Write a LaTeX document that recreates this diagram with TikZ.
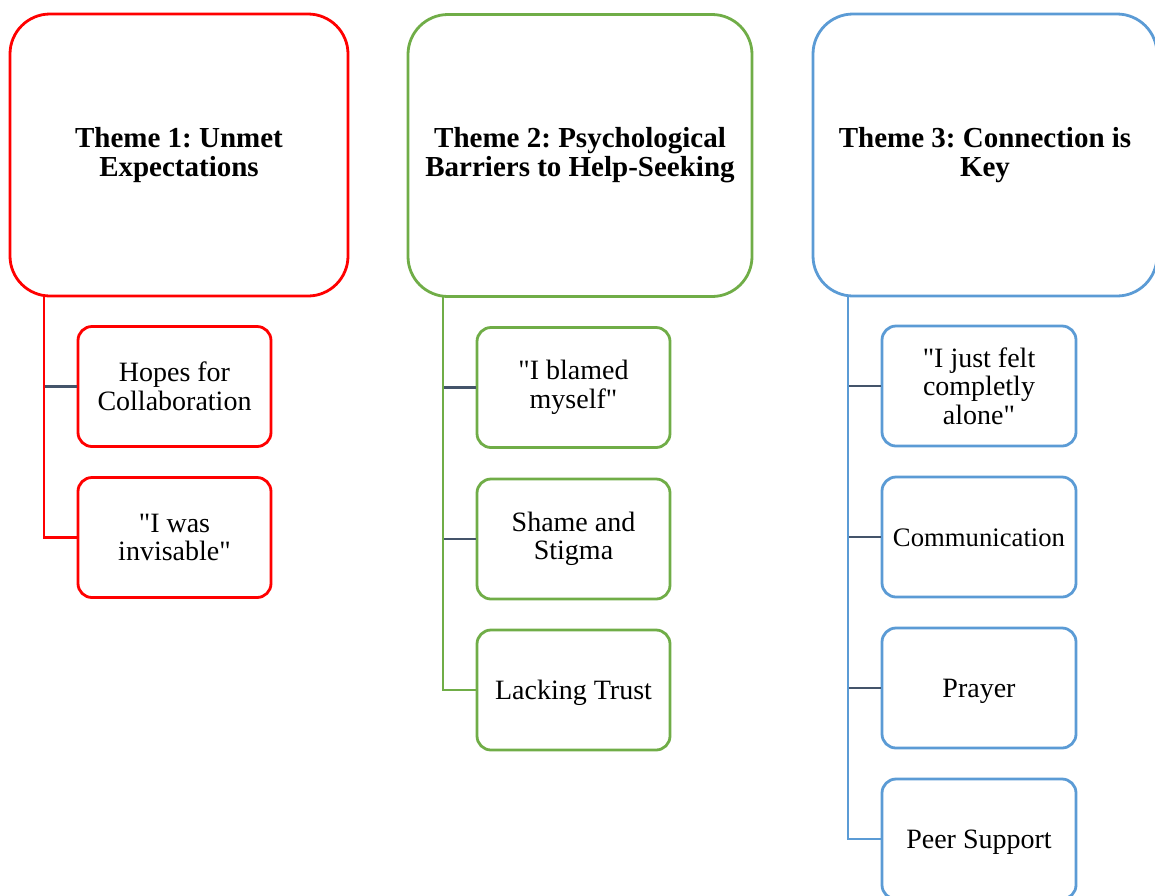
\documentclass[tikz,border=0pt]{standalone}
\usepackage{fontspec}
\setmainfont{Liberation Serif}[Ligatures=TeXOff]
\frenchspacing
\definecolor{tred}{HTML}{FF0000}
\definecolor{tgreen}{HTML}{70AD47}
\definecolor{tblue}{HTML}{5B9BD5}
\definecolor{stub}{HTML}{44546A}
\tikzset{
  theme/.style={draw=#1, line width=2.8pt, fill=white, rounded corners=40pt,
    minimum height=282pt, align=center, inner sep=0pt,
    font=\fontsize{29}{29}\selectfont\bfseries},
  sub/.style={draw=#1, line width=2.8pt, fill=white, rounded corners=14pt,
    minimum width=193pt, minimum height=120pt, align=center, inner sep=0pt,
    font=\fontsize{28}{28.5}\selectfont},
  oneline/.style={text height=22pt, text depth=3pt},
  link/.style={draw=#1, line width=2.6pt},
}
\begin{document}
\begin{tikzpicture}[x=1pt,y=-1pt]
\useasboundingbox (0,0) rectangle (1155,895);

% theme headers
\node[theme=tred, minimum width=338pt] (t1) at (179,155) {Theme 1: Unmet\\Expectations};
\node[theme=tgreen, minimum width=344pt] (t2) at (580,155.5) {Theme 2: Psychological\\Barriers to Help-Seeking};
\node[theme=tblue, minimum width=344pt] (t3) at (985,155) {Theme 3: Connection is\\Key};

% spine start points
\coordinate (s1) at (44,296);
\coordinate (s2) at (443,297);
\coordinate (s3) at (848,296);

% sub-topics, theme 1
\node[sub=tred] (a1) at (174.5,386.5) {Hopes for\\Collaboration};
\node[sub=tred] (a2) at (174.5,537.5) {"I was\\invisable"};

% sub-topics, theme 2
\node[sub=tgreen] (b1) at (573.5,387.5) {"I blamed\\myself"};
\node[sub=tgreen] (b2) at (573.5,539) {Shame and\\Stigma};
\node[sub=tgreen, oneline] (b3) at (573.5,690) {Lacking Trust};

% sub-topics, theme 3
\node[sub=tblue, minimum width=194pt] (c1) at (979,386) {"I just felt\\completly\\alone"};
\node[sub=tblue, minimum width=194pt, font=\fontsize{26.7}{27}\selectfont,
      text height=21pt, text depth=2pt] (c2) at (979,537) {Communication};
\node[sub=tblue, minimum width=194pt, oneline] (c3) at (979,688) {Prayer};
\node[sub=tblue, minimum width=194pt, oneline] (c4) at (979,839) {Peer Support};

% connectors
\draw[link=stub] (s1) |- (a1.west);
\draw[link=tred] (s1) |- (a2.west);

\draw[link=stub] (s2) |- (b1.west);
\draw[link=stub] (s2) |- (b2.west);
\draw[link=tgreen] (s2) |- (b3.west);

\draw[link=stub] (s3) |- (c1.west);
\draw[link=stub] (s3) |- (c2.west);
\draw[link=stub] (s3) |- (c3.west);
\draw[link=tblue] (s3) |- (c4.west);
\end{tikzpicture}
\end{document}
